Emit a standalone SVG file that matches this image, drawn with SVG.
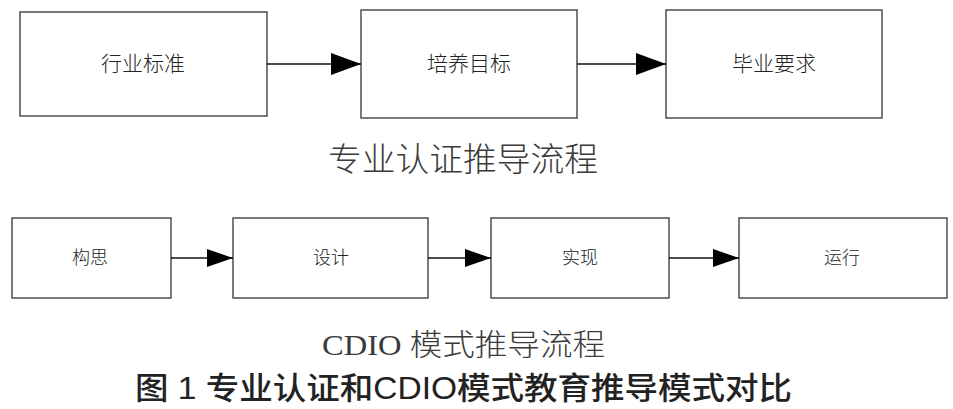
<svg xmlns="http://www.w3.org/2000/svg" width="953" height="409" viewBox="0 0 953 409">
<style>
.box{fill:#fff;stroke:#333;stroke-width:1.3}
.lbl{font-family:"Noto Sans CJK SC","Noto Sans",sans-serif;fill:#222;text-anchor:middle;font-weight:300}
.t1{font-size:21px}
.t2{font-size:18px}
.edge{stroke:#111;stroke-width:1.3;fill:none}
.sub{font-family:"Liberation Serif","Noto Sans CJK SC",serif;fill:#3a3a3a;font-weight:300}
.cap{font-family:"Liberation Sans","Noto Sans CJK SC",sans-serif;fill:#222;font-weight:500}
</style>
<defs>
<marker id="ahL" markerUnits="userSpaceOnUse" markerWidth="30" markerHeight="22" refX="30" refY="11" orient="auto">
<path d="M0,0 L30,11 L0,22 Z" fill="#000"/>
</marker>
<marker id="ahS" markerUnits="userSpaceOnUse" markerWidth="26" markerHeight="18" refX="26" refY="9" orient="auto">
<path d="M0,0 L26,9 L0,18 Z" fill="#000"/>
</marker>
</defs>
<rect width="953" height="409" fill="#fff"/>
<g id="n1"><rect class="box" x="20" y="12" width="247" height="104"/><text class="lbl t1" x="143" y="71">行业标准</text></g>
<g id="n2"><rect class="box" x="361" y="10" width="216" height="108"/><text class="lbl t1" x="469" y="71">培养目标</text></g>
<g id="n3"><rect class="box" x="666" y="10" width="216" height="108"/><text class="lbl t1" x="774" y="71">毕业要求</text></g>
<g id="m1"><rect class="box" x="12" y="218" width="159" height="80"/><text class="lbl t2" x="90" y="264">构思</text></g>
<g id="m2"><rect class="box" x="233" y="218" width="195" height="80"/><text class="lbl t2" x="331" y="264">设计</text></g>
<g id="m3"><rect class="box" x="491" y="218" width="178" height="80"/><text class="lbl t2" x="580" y="264">实现</text></g>
<g id="m4"><rect class="box" x="739" y="218" width="208" height="80"/><text class="lbl t2" x="842" y="264">运行</text></g>
<g id="connectors">
<line class="edge" x1="267" y1="64" x2="361" y2="64" marker-end="url(#ahL)"/>
<line class="edge" x1="577" y1="64" x2="666" y2="64" marker-end="url(#ahL)"/>
<line class="edge" x1="171" y1="258" x2="233" y2="258" marker-end="url(#ahS)"/>
<line class="edge" x1="428" y1="258" x2="491" y2="258" marker-end="url(#ahS)"/>
<line class="edge" x1="669" y1="258" x2="739" y2="258" marker-end="url(#ahS)"/>
</g>
<text class="sub" x="328" y="171" font-size="33" textLength="270" lengthAdjust="spacingAndGlyphs">专业认证推导流程</text>
<text class="sub" x="322" y="355" font-size="30" textLength="283" lengthAdjust="spacingAndGlyphs">CDIO 模式推导流程</text>
<text class="cap" x="135" y="399" font-size="31" textLength="657" lengthAdjust="spacingAndGlyphs">图 1 专业认证和CDIO模式教育推导模式对比</text>
</svg>
